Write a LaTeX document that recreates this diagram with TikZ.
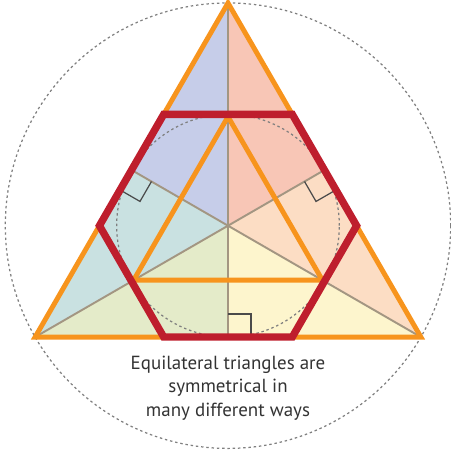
\documentclass[tikz,border=0pt]{standalone}
\usepackage{fontspec}
\setmainfont{PT Sans}
\usetikzlibrary{calc}
\definecolor{triorange}{HTML}{F7941D}
\definecolor{hexred}{HTML}{BE1E2D}
\definecolor{medgray}{HTML}{A39682}
\definecolor{ringgray}{HTML}{7F7F7F}
\definecolor{markgray}{HTML}{4A4A4A}
\definecolor{captext}{HTML}{333333}
\definecolor{partblue}{HTML}{C6CDE9}
\definecolor{partpink}{HTML}{F8C6B6}
\definecolor{partteal}{HTML}{C9E1E1}
\definecolor{partpeach}{HTML}{FCDDC4}
\definecolor{partlime}{HTML}{E4EBC9}
\definecolor{partyellow}{HTML}{FDF5CD}

\begin{document}
\begin{tikzpicture}[x=0.02cm,y=0.02cm,line join=miter]

\tikzset{
med/.style={draw=medgray,line width=1.1pt},
ring/.style={draw=ringgray,line width=0.7pt,dash pattern=on 1.4pt off 1.6pt},
ra/.style={draw=markgray,line width=0.7pt},
tri/.style={draw=triorange,line width=2.8pt},
hex/.style={draw=hexred,line width=4.2pt}
}

\useasboundingbox (0,0) rectangle (450,453);

\coordinate (O) at (228,227.3);
\coordinate (A) at ($(O)+(90:222.7)$);
\coordinate (B) at ($(O)+(210:222.7)$);
\coordinate (C) at ($(O)+(330:222.7)$);
\coordinate (mA) at ($(B)!0.5!(C)$);
\coordinate (mB) at ($(C)!0.5!(A)$);
\coordinate (mC) at ($(A)!0.5!(B)$);

% six parts cut by the medians
\fill[partblue] (A) -- (mC) -- (O) -- cycle;
\fill[partpink] (A) -- (mB) -- (O) -- cycle;
\fill[partteal] (B) -- (mC) -- (O) -- cycle;
\fill[partpeach] (C) -- (mB) -- (O) -- cycle;
\fill[partlime] (B) -- (mA) -- (O) -- cycle;
\fill[partyellow] (C) -- (mA) -- (O) -- cycle;

\draw[med] (A) -- (mA);
\draw[med] (B) -- (mB);
\draw[med] (C) -- (mC);

% circles
\draw[ring] (O) circle (111.35);
\draw[ring] (O) circle (222.7);

% right angles
\coordinate (p1) at ($(mA)!0.46cm!(A)$);
\coordinate (q1) at ($(mA)!0.46cm!(C)$);
\draw[ra] (p1) -- ($(p1)+(q1)-(mA)$) -- (q1);
\coordinate (p2) at ($(mC)!0.46cm!(C)$);
\coordinate (q2) at ($(mC)!0.46cm!(B)$);
\draw[ra] (p2) -- ($(p2)+(q2)-(mC)$) -- (q2);
\coordinate (p3) at ($(mB)!0.46cm!(B)$);
\coordinate (q3) at ($(mB)!0.46cm!(C)$);
\draw[ra] (p3) -- ($(p3)+(q3)-(mB)$) -- (q3);

% inner triangle
\coordinate (iA) at ($(O)+(90:109)$);
\coordinate (iB) at ($(O)+(210:109)$);
\coordinate (iC) at ($(O)+(330:109)$);
\draw[tri] (iA) -- (iB) -- (iC) -- cycle;

\draw[tri] (A) -- (B) -- (C) -- cycle;

% hexagon
\coordinate (h1) at ($(A)!1/3!(B)$);
\coordinate (h2) at ($(A)!2/3!(B)$);
\coordinate (h3) at ($(B)!1/3!(C)$);
\coordinate (h4) at ($(B)!2/3!(C)$);
\coordinate (h5) at ($(C)!1/3!(A)$);
\coordinate (h6) at ($(C)!2/3!(A)$);
\draw[hex] (h1) -- (h2) -- (h3) -- (h4) -- (h5) -- (h6) -- cycle;

\node[font=\fontsize{10.8}{13.4}\selectfont,text=captext,align=center] (caption) at (228,65)
  {Equilateral triangles are\\symmetrical in\\many different ways};

\end{tikzpicture}
\end{document}
